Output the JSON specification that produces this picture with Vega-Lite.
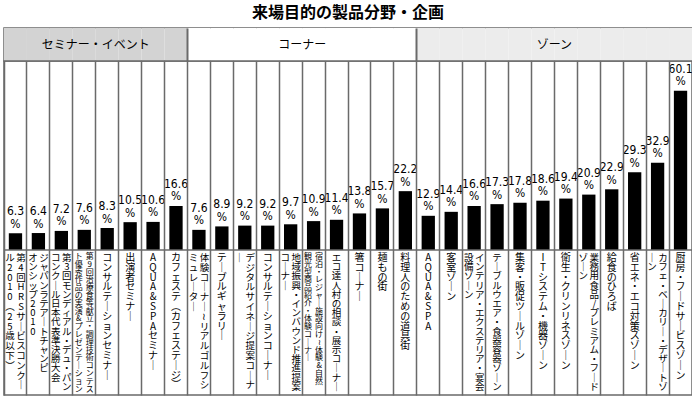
{
  "$schema": "https://vega.github.io/schema/vega-lite/v6.json",
  "background": "white",
  "padding": {"left": 2, "top": 5, "right": 2, "bottom": 2},
  "title": {"text": "来場目的の製品分野・企画", "font": "Noto Sans CJK JP", "fontSize": 16, "fontWeight": "bold", "anchor": "middle", "offset": 6, "color": "#000000"},
  "config": {"view": {"stroke": "#6a6a6a", "strokeWidth": 1.5}, "font": "Noto Sans CJK JP"},
  "data": {"name": "d"},
  "datasets": {
    "d": [
      {"id": 1, "group": "セミナー・イベント", "v": 6.3, "a": "第4回HRSサービスコンクー", "b": "ル2010（25歳以下）"},
      {"id": 2, "group": "セミナー・イベント", "v": 6.4, "a": "ジャパン　ラテアート　チャンピ", "b": "オンシップ2010"},
      {"id": 3, "group": "セミナー・イベント", "v": 7.2, "a": "第3回モンディアル・デュ・パン", "b": "コンクール日本代表準決勝大会"},
      {"id": 4, "group": "セミナー・イベント", "v": 7.6, "a": "第9回治療食等献立・調理技術コンテス", "b": "ト優秀作品の実演&プレゼンテーション"},
      {"id": 5, "group": "セミナー・イベント", "v": 8.3, "a": "コンサルテーションセミナー", "b": ""},
      {"id": 6, "group": "セミナー・イベント", "v": 10.5, "a": "出演者セミナー", "b": ""},
      {"id": 7, "group": "セミナー・イベント", "v": 10.6, "a": "AQUA&SPAセミナー", "b": ""},
      {"id": 8, "group": "セミナー・イベント", "v": 16.6, "a": "カフェステ（カフェステージ）", "b": ""},
      {"id": 9, "group": "コーナー", "v": 7.6, "a": "体験コーナー～リアルゴルフシ", "b": "ミュレーター"},
      {"id": 10, "group": "コーナー", "v": 8.9, "a": "テーブルギャラリー", "b": ""},
      {"id": 11, "group": "コーナー", "v": 9.2, "a": "デジタルサイネージ提案コーナ", "b": "ー"},
      {"id": 12, "group": "コーナー", "v": 9.2, "a": "コンサルテーションコーナー", "b": ""},
      {"id": 13, "group": "コーナー", "v": 9.7, "a": "地域振興・インバウンド推進提案", "b": "コーナー"},
      {"id": 14, "group": "コーナー", "v": 10.9, "a": "宿泊・レジャー施設向け～体験&自然", "b": "観光型商品紹介・体験コーナー"},
      {"id": 15, "group": "コーナー", "v": 11.4, "a": "エコ達人村の相談・展示コーナー", "b": ""},
      {"id": 16, "group": "コーナー", "v": 13.8, "a": "箸コーナー", "b": ""},
      {"id": 17, "group": "コーナー", "v": 15.7, "a": "麺もの街", "b": ""},
      {"id": 18, "group": "コーナー", "v": 22.2, "a": "料理人のための道具街", "b": ""},
      {"id": 19, "group": "ゾーン", "v": 12.9, "a": "AQUA&SPA", "b": ""},
      {"id": 20, "group": "ゾーン", "v": 14.4, "a": "客室ゾーン", "b": ""},
      {"id": 21, "group": "ゾーン", "v": 16.6, "a": "インテリア・エクステリア・宴会", "b": "設備ゾーン"},
      {"id": 22, "group": "ゾーン", "v": 17.3, "a": "テーブルウエア・食器容器ゾーン", "b": ""},
      {"id": 23, "group": "ゾーン", "v": 17.8, "a": "集客・販促ツールゾーン", "b": ""},
      {"id": 24, "group": "ゾーン", "v": 18.6, "a": "ITシステム・機器ゾーン", "b": ""},
      {"id": 25, "group": "ゾーン", "v": 19.4, "a": "衛生・クリンリネスゾーン", "b": ""},
      {"id": 26, "group": "ゾーン", "v": 20.9, "a": "業務用食品/プレミアム・フード", "b": "ゾーン"},
      {"id": 27, "group": "ゾーン", "v": 22.9, "a": "給食のひろば", "b": ""},
      {"id": 28, "group": "ゾーン", "v": 29.3, "a": "省エネ・エコ対策スゾーン", "b": ""},
      {"id": 29, "group": "ゾーン", "v": 32.9, "a": "カフェ・ベーカリー・デザートゾ", "b": "ーン"},
      {"id": 30, "group": "ゾーン", "v": 60.1, "a": "厨房・フードサービスゾーン", "b": ""}
    ]
  },
  "spacing": 0,
  "bounds": "flush",
  "vconcat": [
    {
      "width": 688,
      "height": 33,
      "layer": [
        {
          "mark": {"type": "rect"},
          "encoding": {
            "x": {"field": "id", "type": "ordinal", "scale": {"paddingInner": 0, "paddingOuter": 0},
                  "axis": {"grid": true, "values": [9, 19], "bandPosition": 0, "gridColor": "#6a6a6a", "gridWidth": 2, "labels": false, "ticks": false, "domain": false, "title": null, "zindex": 1}},
            "fill": {"field": "group", "type": "nominal", "scale": {"domain": ["セミナー・イベント", "コーナー", "ゾーン"], "range": ["#d3d3d3", "#ffffff", "#ececec"]}, "legend": null}
          }
        },
        {
          "transform": [
            {"window": [{"op": "row_number", "as": "rn"}, {"op": "count", "as": "cnt"}], "groupby": ["group"], "sort": [{"field": "id"}], "frame": [null, null]},
            {"filter": "datum.rn == floor(datum.cnt / 2) + 1"}
          ],
          "mark": {"type": "text", "fontSize": 12, "font": "Noto Sans CJK JP", "color": "#000000"},
          "encoding": {
            "x": {"field": "id", "type": "ordinal", "bandPosition": 0},
            "text": {"field": "group", "type": "nominal"}
          }
        }
      ]
    },
    {
      "width": 688,
      "height": 334,
      "transform": [
        {"calculate": "join(split(join(split(join(split(join(split(join(split(datum.a,'ー'),'｜'),'～'),'≀'),'（'),'︵'),'）'),'︶'),''),'\\n')", "as": "t1"},
        {"calculate": "datum.b ? join(split(join(split(join(split(join(split(join(split(datum.b,'ー'),'｜'),'～'),'≀'),'（'),'︵'),'）'),'︶'),''),'\\n') : ''", "as": "t2"},
        {"calculate": "max(length(datum.a), datum.b ? length(datum.b) : 0)", "as": "n"},
        {"calculate": "format(datum.v, '.1f') + '\\n%'", "as": "vl"}
      ],
      "layer": [
        {
          "mark": {"type": "bar", "color": "#000000", "width": {"band": 0.58}},
          "encoding": {
            "x": {"field": "id", "type": "ordinal", "scale": {"paddingInner": 0, "paddingOuter": 0},
                  "axis": {"grid": true, "bandPosition": 0, "gridColor": "#6a6a6a", "gridWidth": 1.5, "labels": false, "ticks": false, "domain": false, "title": null, "zindex": 1}},
            "y": {"field": "v", "type": "quantitative", "scale": {"domain": [-54.7, 71.3], "nice": false, "zero": false}, "axis": null}
          }
        },
        {
          "transform": [{"aggregate": [{"op": "count", "as": "c"}]}],
          "mark": {"type": "rule", "color": "#6a6a6a", "strokeWidth": 1.5},
          "encoding": {"y": {"datum": 0, "type": "quantitative"}}
        },
        {
          "mark": {"type": "text", "baseline": "bottom", "dy": -15, "lineBreak": "\n", "lineHeight": 12.5, "fontSize": 12, "font": "Liberation Sans Narrow, DejaVu Sans Condensed, sans-serif", "color": "#000000"},
          "encoding": {
            "x": {"field": "id", "type": "ordinal"},
            "y": {"field": "v", "type": "quantitative"},
            "text": {"field": "vl", "type": "nominal"}
          }
        },
        {
          "transform": [{"filter": "!datum.b && datum.n <= 14"}],
          "mark": {"type": "text", "baseline": "top", "dy": 3, "lineBreak": "\n", "lineHeight": 9.8, "fontSize": 10, "font": "Noto Sans CJK JP", "color": "#000000"},
          "encoding": {"x": {"field": "id", "type": "ordinal"}, "y": {"datum": 0, "type": "quantitative"}, "text": {"field": "t1", "type": "nominal"}}
        },
        {
          "transform": [{"filter": "!datum.b && datum.n == 15"}],
          "mark": {"type": "text", "baseline": "top", "dy": 3, "lineBreak": "\n", "lineHeight": 9.2, "fontSize": 9.5, "font": "Noto Sans CJK JP", "color": "#000000"},
          "encoding": {"x": {"field": "id", "type": "ordinal"}, "y": {"datum": 0, "type": "quantitative"}, "text": {"field": "t1", "type": "nominal"}}
        },
        {
          "transform": [{"filter": "datum.b && datum.n <= 14"}],
          "mark": {"type": "text", "baseline": "top", "dy": 3, "dx": 5.5, "lineBreak": "\n", "lineHeight": 9.8, "fontSize": 9.5, "font": "Noto Sans CJK JP", "color": "#000000"},
          "encoding": {"x": {"field": "id", "type": "ordinal"}, "y": {"datum": 0, "type": "quantitative"}, "text": {"field": "t1", "type": "nominal"}}
        },
        {
          "transform": [{"filter": "datum.b && datum.n <= 14"}],
          "mark": {"type": "text", "baseline": "top", "dy": 3, "dx": -5.5, "lineBreak": "\n", "lineHeight": 9.8, "fontSize": 9.5, "font": "Noto Sans CJK JP", "color": "#000000"},
          "encoding": {"x": {"field": "id", "type": "ordinal"}, "y": {"datum": 0, "type": "quantitative"}, "text": {"field": "t2", "type": "nominal"}}
        },
        {
          "transform": [{"filter": "datum.b && datum.n == 15"}],
          "mark": {"type": "text", "baseline": "top", "dy": 3, "dx": 5.5, "lineBreak": "\n", "lineHeight": 9.2, "fontSize": 9.5, "font": "Noto Sans CJK JP", "color": "#000000"},
          "encoding": {"x": {"field": "id", "type": "ordinal"}, "y": {"datum": 0, "type": "quantitative"}, "text": {"field": "t1", "type": "nominal"}}
        },
        {
          "transform": [{"filter": "datum.b && datum.n == 15"}],
          "mark": {"type": "text", "baseline": "top", "dy": 3, "dx": -5.5, "lineBreak": "\n", "lineHeight": 9.2, "fontSize": 9.5, "font": "Noto Sans CJK JP", "color": "#000000"},
          "encoding": {"x": {"field": "id", "type": "ordinal"}, "y": {"datum": 0, "type": "quantitative"}, "text": {"field": "t2", "type": "nominal"}}
        },
        {
          "transform": [{"filter": "datum.b && datum.n >= 16"}],
          "mark": {"type": "text", "baseline": "top", "dy": 3, "dx": 5.5, "lineBreak": "\n", "lineHeight": 7.8, "fontSize": 8, "font": "Noto Sans CJK JP", "color": "#000000"},
          "encoding": {"x": {"field": "id", "type": "ordinal"}, "y": {"datum": 0, "type": "quantitative"}, "text": {"field": "t1", "type": "nominal"}}
        },
        {
          "transform": [{"filter": "datum.b && datum.n >= 16"}],
          "mark": {"type": "text", "baseline": "top", "dy": 3, "dx": -5.5, "lineBreak": "\n", "lineHeight": 7.8, "fontSize": 8, "font": "Noto Sans CJK JP", "color": "#000000"},
          "encoding": {"x": {"field": "id", "type": "ordinal"}, "y": {"datum": 0, "type": "quantitative"}, "text": {"field": "t2", "type": "nominal"}}
        }
      ]
    }
  ]
}
